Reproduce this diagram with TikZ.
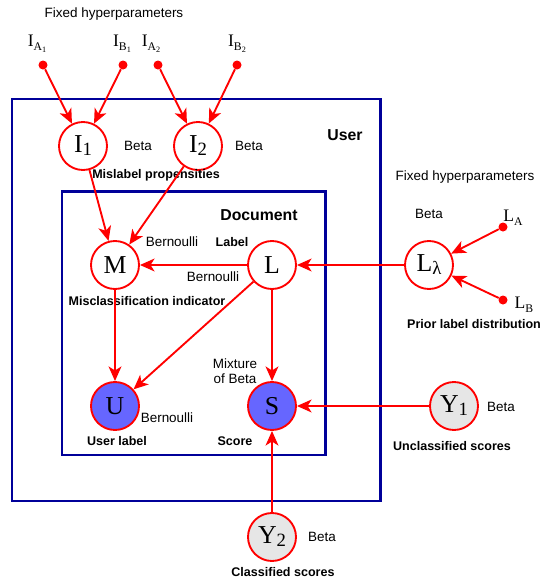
\documentclass[tikz,border=0pt]{standalone}
\usepackage{fontspec}
\setmainfont{Liberation Serif}
\setsansfont{Liberation Sans}
\usetikzlibrary{positioning,arrows.meta}
\definecolor{boxblue}{RGB}{0,0,153}
\definecolor{obsblue}{RGB}{102,102,255}
\definecolor{hypgray}{RGB}{230,230,230}
\newcommand{\vsub}[2]{#1\raisebox{-0.12em}{\fontsize{16}{18}\selectfont #2}}
\newcommand{\hsub}[2]{#1\raisebox{-0.22em}{\fontsize{10}{12}\selectfont #2}}
\newcommand{\hsubsub}[2]{#1\raisebox{-0.15em}{\fontsize{7}{8}\selectfont #2}}

\begin{document}
\begin{tikzpicture}[x=0.03cm, y=-0.03cm, >={Stealth[length=12.5pt, width=11pt, inset=3.5pt]}]
    % Define styles
    \tikzstyle{var} = [draw=red, circle, line width=1.6pt, minimum size=1.44cm, inner sep=0pt, fill=white, font=\fontsize{22}{24}\selectfont]
    \tikzstyle{observed} = [var, fill=obsblue]
    \tikzstyle{prior} = [var, fill=hypgray]
    \tikzstyle{hyper} = [circle, fill=red, inner sep=0pt, minimum size=0.27cm]
    \tikzstyle{hyperlabel} = [inner sep=0pt, font=\fontsize{15}{17}\selectfont]
    \tikzstyle{distr} = [inner sep=0pt, font=\sffamily\fontsize{11.5}{13}\selectfont]
    \tikzstyle{caption} = [inner sep=0pt, font=\sffamily\bfseries\fontsize{10.7}{12}\selectfont]
    \tikzstyle{platename} = [inner sep=0pt, font=\sffamily\bfseries\fontsize{13.5}{15}\selectfont]
    \tikzstyle{plate} = [draw=boxblue, line width=2.5pt]
    \tikzstyle{dep} = [->, red, line width=1.6pt]

    \useasboundingbox (0,0) rectangle (552,578);

    % PLATES
    \draw[plate] (12,99) rectangle (380.5,501);
    \draw[plate] (62,191.5) rectangle (325.5,455);
    \node (user_name) [platename] at (345,135) {User};
    \node (doc_name) [platename] at (259,215) {Document};

    % MISLABEL PROPENSITIES
    \node (hyp_text1) [distr] at (114,14) {Fixed hyperparameters};
    \node (ia1) [hyper] at (43,65) {};
    \node (ib1) [hyper] at (123,65) {};
    \node (ia2) [hyper] at (158,65) {};
    \node (ib2) [hyper] at (237,65) {};
    \node (ia1_label) [hyperlabel] at (37,44) {\hsub{I}{\hsubsub{A}{1}}};
    \node (ib1_label) [hyperlabel] at (122,44) {\hsub{I}{\hsubsub{B}{1}}};
    \node (ia2_label) [hyperlabel] at (151,44) {\hsub{I}{\hsubsub{A}{2}}};
    \node (ib2_label) [hyperlabel] at (237,44) {\hsub{I}{\hsubsub{B}{2}}};

    \node (I1) [var] at (83,146) {\vsub{I}{1}};
    \node (I2) [var] at (198,146) {\vsub{I}{2}};
    \node (I1_distr) [distr] at (138,146) {Beta};
    \node (I2_distr) [distr] at (249,146) {Beta};
    \node (I_caption) [caption] at (156,175) {Mislabel propensities};

    % DOCUMENT
    \node (M) [var] at (115,265) {M};
    \node (L) [var] at (272,265) {L};
    \node (U) [observed] at (115,406) {U};
    \node (S) [observed] at (272,406) {S};
    \node (M_distr) [distr] at (172,242) {Bernoulli};
    \node (L_caption) [caption] at (232,242) {Label};
    \node (L_distr) [distr] at (213,277) {Bernoulli};
    \node (M_caption) [caption] at (147,301) {Misclassification indicator};
    \node (S_distr) [distr, align=center] at (235,371) {Mixture\\of Beta};
    \node (U_distr) [distr] at (167,418) {Bernoulli};
    \node (U_caption) [caption] at (117,441) {User label};
    \node (S_caption) [caption] at (235,441) {Score};

    % PRIOR LABEL DISTRIBUTION
    \node (hyp_text2) [distr] at (465,177) {Fixed hyperparameters};
    \node (Ll) [var] at (429,265) {\vsub{L}{λ}};
    \node (Ll_distr) [distr] at (429,214) {Beta};
    \node (la) [hyper] at (503,227) {};
    \node (lb) [hyper] at (503,300) {};
    \node (la_label) [hyperlabel] at (513,218) {\hsub{L}{A}};
    \node (lb_label) [hyperlabel] at (524,305) {\hsub{L}{B}};
    \node (Ll_caption) [caption] at (474,324) {Prior label distribution};

    % SCORES
    \node (Y1) [prior] at (454,406) {\vsub{Y}{1}};
    \node (Y1_distr) [distr] at (501,407) {Beta};
    \node (Y1_caption) [caption] at (452,446) {Unclassified scores};
    \node (Y2) [prior] at (272,537) {\vsub{Y}{2}};
    \node (Y2_distr) [distr] at (322,537) {Beta};
    \node (Y2_caption) [caption] at (283,572) {Classified scores};

    % CONNECTIONS
    \draw[dep] (ia1) -- (I1);
    \draw[dep] (ib1) -- (I1);
    \draw[dep] (ia2) -- (I2);
    \draw[dep] (ib2) -- (I2);
    \draw[dep] (I1) -- (M);
    \draw[dep] (I2) -- (M);

    \draw[dep] (L) -- (M);
    \draw[dep] (M) -- (U);
    \draw[dep] (L) -- (U);
    \draw[dep] (L) -- (S);

    \draw[dep] (la) -- (Ll);
    \draw[dep] (lb) -- (Ll);
    \draw[dep] (Ll) -- (L);

    \draw[dep] (Y1) -- (S);
    \draw[dep] (Y2) -- (S);

\end{tikzpicture}
\end{document}
